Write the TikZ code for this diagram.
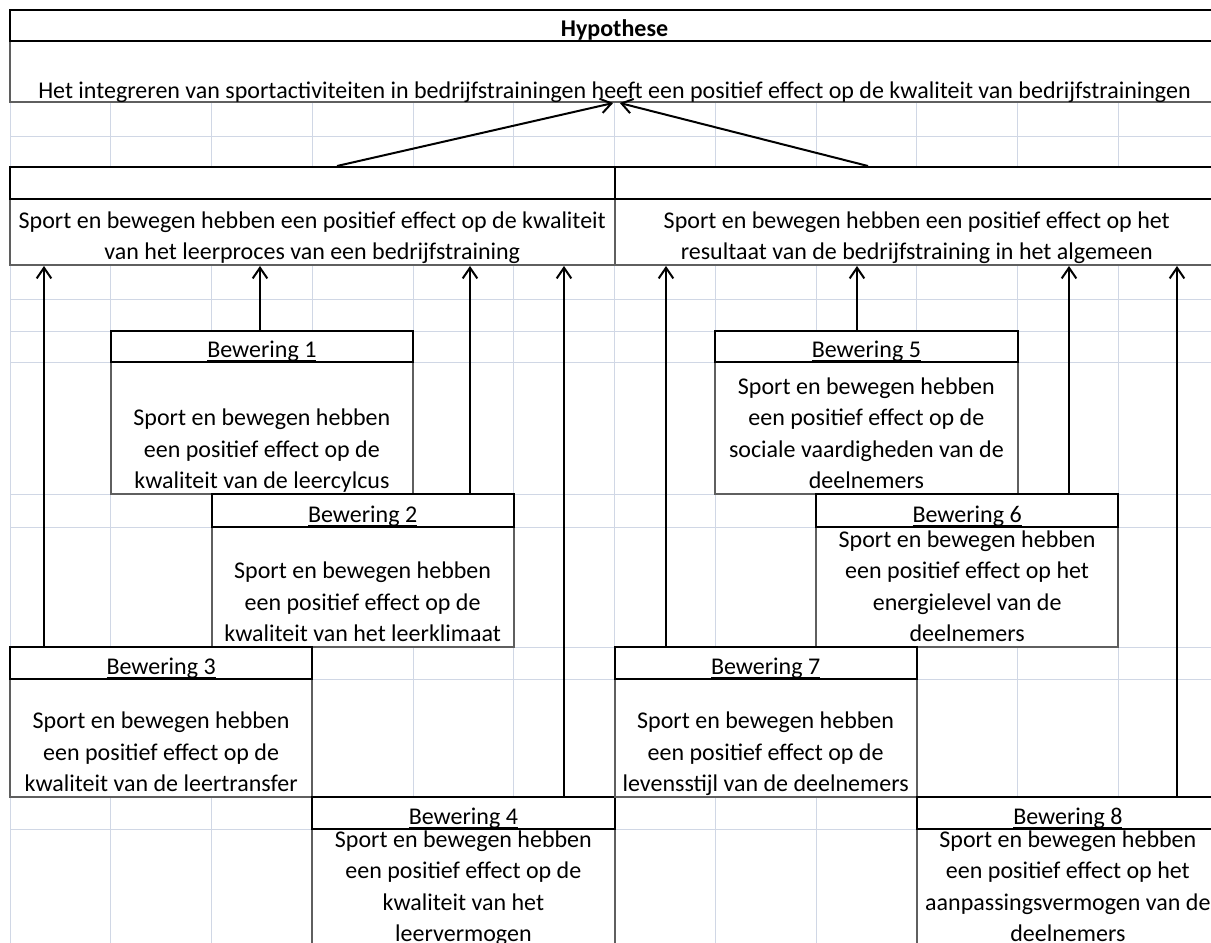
\documentclass[tikz,border=0pt]{standalone}
\usepackage{fontspec}
\setmainfont{Carlito}
\usetikzlibrary{fit,arrows.meta}

\definecolor{gridline}{RGB}{208,215,229}
\definecolor{cellborder}{RGB}{95,95,95}

\newcommand{\uln}[1]{\sbox0{#1}\rlap{\rule[-3.2pt]{\wd0}{1pt}}\usebox0}

\begin{document}
\begin{tikzpicture}[x=0.75pt, y=-0.75pt,
  font=\fontsize{18}{23.6}\selectfont,
  gridln/.style={gridline, line width=0.75pt},
  cell/.style={fit={#1}, inner sep=0pt, draw=cellborder, line width=1.5pt, fill=white},
  head/.style={fit={#1}, inner sep=0pt, draw=black, line width=1.5pt, fill=white},
  lbl/.style={anchor=base, inner sep=0pt, yshift=4.5pt},
  txt/.style={anchor=south, align=center, inner sep=0pt, yshift=-2.6pt},
  arrowup/.style={line width=1.5pt, -{Straight Barb[length=8pt, width=11pt]}}]

  \useasboundingbox (0,0) rectangle (1211,943);
  \clip (0,0) rectangle (1211,943);

  % sheet grid
  \foreach \k in {0,...,12}
    \draw[gridln] ({10+100.75*\k},10) -- ({10+100.75*\k},943);
  \foreach \r in {10,41,102,136,167,199,265,299,331,362,494,527,647,679,797,829}
    \draw[gridln] (10,\r) -- (1211,\r);

  % hypothese
  \node[cell={(10,41) (1219,102)},
    label={[lbl, yshift=-0.75pt]south:Het integreren van sportactiviteiten in bedrijfstrainingen heeft een positief effect op de kwaliteit van bedrijfstrainingen}] (hyp) {};
  \node[head={(10,10) (1219,41)}, label={[lbl]south:\textbf{Hypothese}}] (hyph) {};

  % deelhypothesen
  \node[cell={(10,199) (614.5,265)},
    label={[txt]south:{Sport en bewegen hebben een positief effect op de kwaliteit\\van het leerproces van een bedrijfstraining\strut}}] (leerproces) {};
  \node[cell={(614.5,199) (1219,265)},
    label={[txt]south:{Sport en bewegen hebben een positief effect op het\\resultaat van de bedrijfstraining in het algemeen\strut}}] (resultaat) {};
  \node[head={(10,167) (614.5,199)}] (leerprocesh) {};
  \node[head={(614.5,167) (1219,199)}] (resultaath) {};

  % beweringen
  \node[cell={(110.75,362) (413,494)},
    label={[txt]south:{Sport en bewegen hebben\\een positief effect op de\\kwaliteit van de leercylcus\strut}}] (b1) {};
  \node[head={(110.75,331) (413,362)}, label={[lbl]south:\uln{Bewering 1}}] (b1h) {};

  \node[cell={(211.5,527) (513.75,647)},
    label={[txt]south:{Sport en bewegen hebben\\een positief effect op de\\kwaliteit van het leerklimaat\strut}}] (b2) {};
  \node[head={(211.5,494) (513.75,527)}, label={[lbl]south:\uln{Bewering 2}}] (b2h) {};

  \node[cell={(10,679) (312.25,797)},
    label={[txt]south:{Sport en bewegen hebben\\een positief effect op de\\kwaliteit van de leertransfer\strut}}] (b3) {};
  \node[head={(10,647) (312.25,679)}, label={[lbl]south:\uln{Bewering 3}}] (b3h) {};

  \node[cell={(312.25,829) (614.5,947)},
    label={[txt]south:{Sport en bewegen hebben\\een positief effect op de\\kwaliteit van het\\leervermogen\strut}}] (b4) {};
  \node[head={(312.25,797) (614.5,829)}, label={[lbl]south:\uln{Bewering 4}}] (b4h) {};

  \node[cell={(715.25,362) (1017.5,494)},
    label={[txt]south:{Sport en bewegen hebben\\een positief effect op de\\sociale vaardigheden van de\\deelnemers\strut}}] (b5) {};
  \node[head={(715.25,331) (1017.5,362)}, label={[lbl]south:\uln{Bewering 5}}] (b5h) {};

  \node[cell={(816,527) (1118.25,647)},
    label={[txt]south:{Sport en bewegen hebben\\een positief effect op het\\energielevel van de\\deelnemers\strut}}] (b6) {};
  \node[head={(816,494) (1118.25,527)}, label={[lbl]south:\uln{Bewering 6}}] (b6h) {};

  \node[cell={(614.5,679) (916.75,797)},
    label={[txt]south:{Sport en bewegen hebben\\een positief effect op de\\levensstijl van de deelnemers\strut}}] (b7) {};
  \node[head={(614.5,647) (916.75,679)}, label={[lbl]south:\uln{Bewering 7}}] (b7h) {};

  \node[cell={(916.75,829) (1219,947)},
    label={[txt]south:{Sport en bewegen hebben\\een positief effect op het\\aanpassingsvermogen van de\\deelnemers\strut}}] (b8) {};
  \node[head={(916.75,797) (1219,829)}, label={[lbl]south:\uln{Bewering 8}}] (b8h) {};

  % pijlen
  \draw[arrowup] (337,0 |- leerprocesh.north) -- ([xshift=-1pt]hyp.south);
  \draw[arrowup] (868,0 |- resultaath.north) -- ([xshift=4pt]hyp.south);

  \draw[arrowup] (44,0 |- b3h.north) -- (44,0 |- leerproces.south);
  \draw[arrowup] (260,0 |- b1h.north) -- (260,0 |- leerproces.south);
  \draw[arrowup] (470,0 |- b2h.north) -- (470,0 |- leerproces.south);
  \draw[arrowup] (564,0 |- b4h.north) -- (564,0 |- leerproces.south);
  \draw[arrowup] (666,0 |- b7h.north) -- (666,0 |- resultaat.south);
  \draw[arrowup] (857,0 |- b5h.north) -- (857,0 |- resultaat.south);
  \draw[arrowup] (1069,0 |- b6h.north) -- (1069,0 |- resultaat.south);
  \draw[arrowup] (1177,0 |- b8h.north) -- (1177,0 |- resultaat.south);
\end{tikzpicture}
\end{document}
